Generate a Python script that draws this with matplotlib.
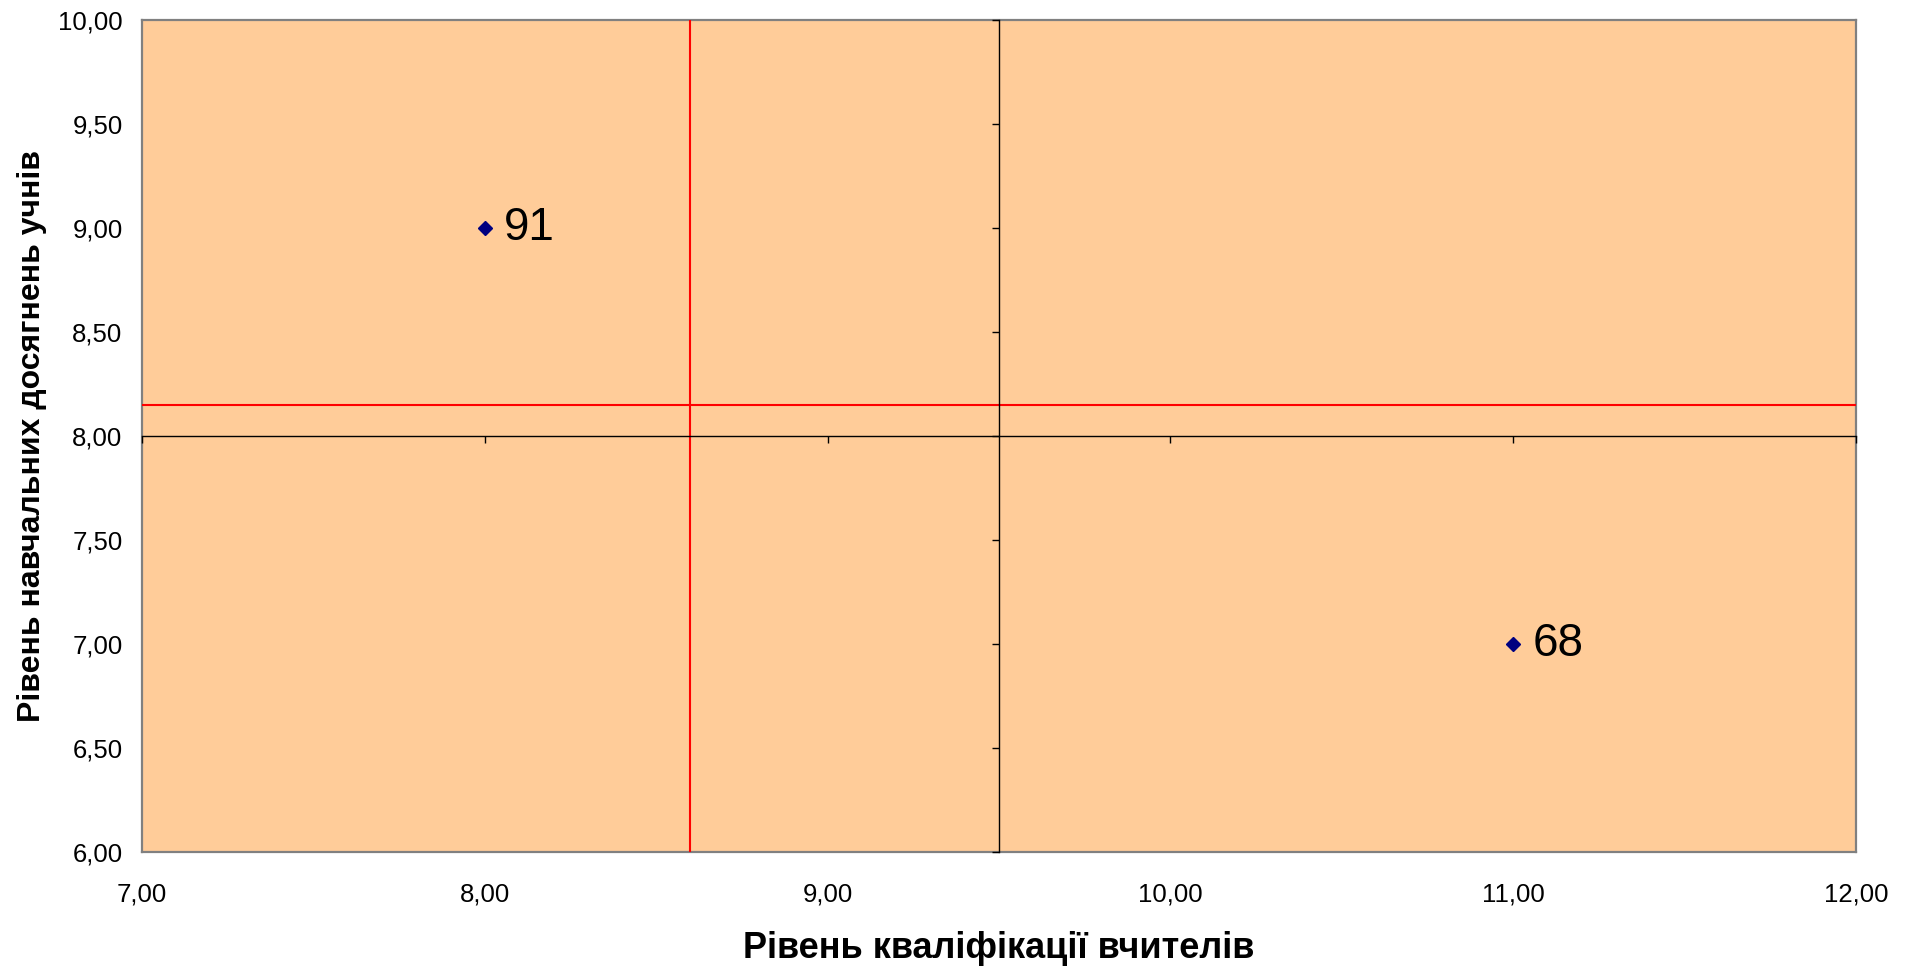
import matplotlib
matplotlib.use("Agg")
import matplotlib.pyplot as plt
from matplotlib.ticker import FuncFormatter, MultipleLocator

# data
qual = [8.0, 11.0]          # рівень кваліфікації вчителів
achieve = [9.0, 7.0]        # рівень навчальних досягнень учнів
labels = ["91", "68"]

x_min, x_max = 7.0, 12.0
y_min, y_max = 6.0, 10.0
x_cross, y_cross = 9.5, 8.0     # where the black axes cross
x_red, y_red = 8.6, 8.15        # red threshold lines

plt.rcParams["font.family"] = ["Liberation Sans", "DejaVu Sans"]

fig = plt.figure(figsize=(19.08, 9.74), dpi=100)
W, H = 1908, 974
rect = [142 / W, 1 - 852 / H, (1856 - 142) / W, (852 - 20) / H]

comma = FuncFormatter(lambda v, p: f"{v:.2f}".replace(".", ","))

# frame + tick labels at the edges
ax_lab = fig.add_axes(rect)
ax_lab.set_facecolor("#FFCC99")
ax_lab.set_xlim(x_min, x_max)
ax_lab.set_ylim(y_min, y_max)
ax_lab.xaxis.set_major_locator(MultipleLocator(1))
ax_lab.yaxis.set_major_locator(MultipleLocator(0.5))
ax_lab.xaxis.set_major_formatter(comma)
ax_lab.yaxis.set_major_formatter(comma)
ax_lab.tick_params(axis="x", length=0, pad=22, labelsize=18.5)
ax_lab.tick_params(axis="y", length=0, pad=14, labelsize=18.5)
for s in ax_lab.spines.values():
    s.set_color("#808080")
    s.set_linewidth(1.6)

# crossing axes with tick marks
ax = fig.add_axes(rect, sharex=ax_lab, sharey=ax_lab)
ax.patch.set_alpha(0)
ax.spines["top"].set_visible(False)
ax.spines["right"].set_visible(False)
ax.spines["bottom"].set_position(("data", y_cross))
ax.spines["left"].set_position(("data", x_cross))
ax.spines["bottom"].set_linewidth(1.0)
ax.spines["left"].set_linewidth(1.0)
ax.tick_params(direction="out", length=5, width=1, labelbottom=False, labelleft=False)

ax.axvline(x_red, color="#FF0000", linewidth=1.5)
ax.axhline(y_red, color="#FF0000", linewidth=1.5)

ax.plot(qual, achieve, linestyle="none", marker="D", markersize=7.5,
        color="#000080", zorder=5)
for x, y, t in zip(qual, achieve, labels):
    ax.annotate(t, (x, y), xytext=(14, 0), textcoords="offset points",
                ha="left", va="center", fontsize=33, color="black")

fig.text(999 / W, 1 - 949 / H, "Рівень кваліфікації вчителів",
         ha="center", va="center", fontsize=26, fontweight="bold")
fig.text(32 / W, 1 - 436 / H, "Рівень навчальних досягнень учнів",
         ha="center", va="center", rotation=90, fontsize=23, fontweight="bold")

fig.savefig("out.png", dpi=100, facecolor="white")
plt.close(fig)
